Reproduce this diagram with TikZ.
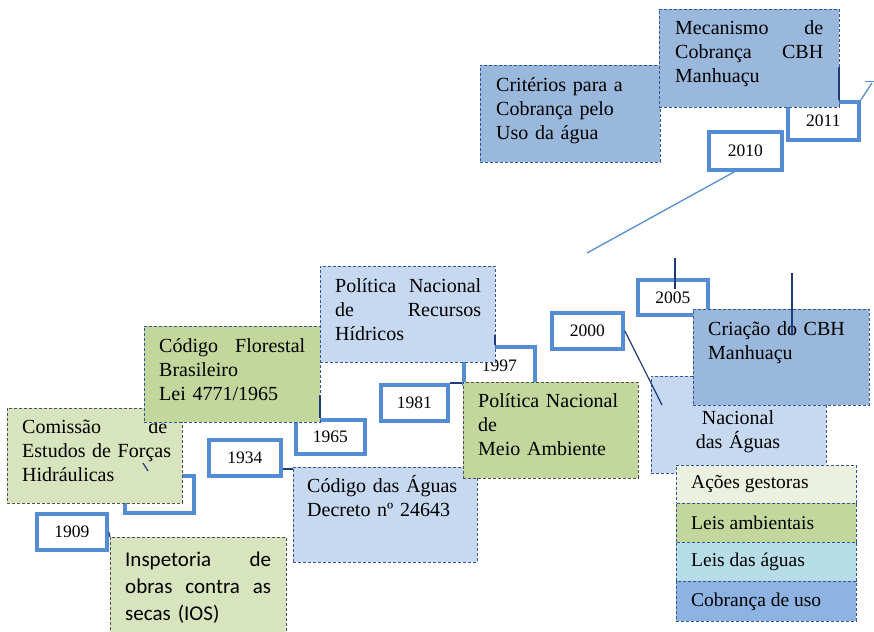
\documentclass[tikz,border=0pt]{standalone}
\usepackage{fontspec}
\setmainfont{Liberation Serif}
\newfontfamily\calibrifont{Carlito}
\definecolor{ybord}{RGB}{84,141,212}
\definecolor{cobr}{HTML}{99B8DC}
\definecolor{lightb}{HTML}{C6D9F1}
\definecolor{greenA}{HTML}{C3D69B}
\definecolor{greenB}{HTML}{D7E4BD}
\definecolor{greenC}{HTML}{EBF1DE}
\definecolor{aqua}{HTML}{B7DEE8}
\definecolor{legcob}{HTML}{8DB3E2}
\definecolor{navy}{RGB}{31,58,125}
\definecolor{dblue}{RGB}{50,85,155}
\definecolor{dgray}{RGB}{80,80,80}
\tikzset{
  bx/.style={rectangle, inner sep=0pt, line width=0.9pt, dash pattern=on 3pt off 2pt},
  bbx/.style={bx, draw=dblue},
  gbx/.style={bx, draw=dgray},
  yr/.style={rectangle, draw=ybord, line width=3.8pt, fill=white, inner sep=0pt,
             font=\fontsize{17.5}{20}\selectfont},
  txt/.style={anchor=base west, inner sep=0pt, align=left, font=\fontsize{20}{24}\selectfont},
  legtxt/.style={anchor=west, inner sep=0pt, font=\fontsize{19.5}{23}\selectfont},
  conn/.style={draw=navy, line width=1.2pt},
  thinl/.style={draw=ybord, line width=1.3pt},
}
% name, style, x1, y1, x2, y2, text
\newcommand\rbox[7]{\node[#2, anchor=north west, minimum width={(#5-#3)*1pt},
  minimum height={(#6-#4)*1pt}] (#1) at (#3,#4) {#7};}
\begin{document}
\begin{tikzpicture}[x=1pt,y=-1pt]
\useasboundingbox (0,0) rectangle (874,631);
\clip (0,0) rectangle (874,631);

% ---- top area
\coordinate (c2010end) at (587,253);
\coordinate (ctr) at (872,83);
\coordinate (ctick) at (865,82);
\coordinate (ctick2) at (874,82);
\rbox{crit}{bbx, fill=cobr}{480}{65}{660}{162}{}
\node[txt, text width=148pt] at (496,92) {Critérios para a\\Cobrança pelo\\Uso da água};
\rbox{y2011}{yr}{786}{100}{857}{138}{2011}
\rbox{mec}{bbx, fill=cobr}{659}{9}{839}{107}{}
\node[txt, text width=148pt] at (675,35) {Mecanismo\hfill de\\Cobrança\hfill CBH\\Manhuaçu};
\coordinate (c2011) at (839,67);
\draw[conn] (c2011) -- (c2011 |- y2011.north);
\rbox{y2010}{yr}{707}{130}{780}{168}{2010}
\draw[thinl] ([xshift=-11pt]y2010.south) -- (c2010end);
\draw[thinl] (y2011.north east) -- (ctr);
\draw[thinl, line width=1pt] (ctick) -- (ctick2);

% ---- left area
\rbox{yhid}{yr}{123}{474}{192}{511}{}
\rbox{com}{gbx, fill=greenB}{7}{408}{182}{503}{}
\node[txt, text width=153pt] at (22,433) {\makebox[145pt][s]{Comissão\hfill de}\\Estudos de Forças\\Hidráulicas};
\coordinate (ctk1) at (143,463);
\coordinate (ctk2) at (148,471);
\draw[conn] (ctk1) -- (ctk2);
\rbox{y1909}{yr}{35}{512}{105}{548}{1909}
\rbox{insp}{gbx, fill=greenB}{110}{537}{286}{645}{}
\node[txt, text width=146pt, font=\calibrifont\fontsize{21}{27}\selectfont] at (125,566)
  {Inspetoria\hfill de\\obras\hfill contra\hfill as\\secas (IOS)};
\draw[conn] (y1909.east) -- (insp.north west);

\rbox{y1934}{yr}{207}{438}{279}{474}{1934}
\rbox{cda}{bbx, fill=lightb}{293}{467}{477}{562}{}
\node[txt, text width=152pt] at (307,492) {Código das Águas\\Decreto nº 24643};
\coordinate (c34b) at (293,469);
\draw[conn] (c34b -| y1934.east) -- (c34b);

\rbox{y1965}{yr}{294}{418}{363}{452}{1965}
\rbox{cf}{bbx, fill=greenA}{144}{326}{320}{422}{}
\node[txt, text width=146pt] at (159,352) {Código\hfill Florestal\\Brasileiro\\Lei 4771/1965};
\coordinate (ccf) at (320,395);
\draw[conn] (ccf) -- (ccf |- y1965.north);

% ---- middle
\rbox{y1997}{yr}{462}{345}{533}{382}{1997}
\rbox{pnrh}{bbx, fill=lightb}{320}{266}{495}{362}{}
\node[txt, text width=146pt] at (335,292) {Política\hfill Nacional\\de\hfill Recursos\\Hídricos};
\coordinate (c1997) at (495,335);
\draw[conn] (c1997) -- (c1997 |- y1997.north);
\rbox{y1981}{yr}{379}{383}{446}{419}{1981}
\draw[conn] (y1981.north east) -- (y1981.north east -| y1997.west);
\rbox{pnma}{gbx, fill=greenA}{463}{382}{638}{478}{}
\node[txt, text width=146pt] at (478,407) {Política Nacional\\de\\Meio Ambiente};

% ---- right
\rbox{y2000}{yr}{550}{311}{621}{347}{2000}
\rbox{y2005}{yr}{636}{278}{706}{313}{2005}
\rbox{nac}{bbx, fill=lightb}{651}{376}{826}{473}{}
\node[txt, anchor=base, align=center, text width=170pt] at (738,424) {Nacional\\das Águas};
\coordinate (cnac) at (662,405);
\draw[conn] (y2000.east) -- (cnac);
\rbox{cri}{bbx, fill=cobr}{693}{309}{869}{405}{}
\node[txt, text width=150pt] at (708,335) {Criação do CBH\\Manhuaçu};
\coordinate (c2005) at (675,258);
\draw[conn] (c2005) -- ++(0,31);
\coordinate (ccri) at (792,273);
\draw[conn] (ccri) -- ++(0,62);

% ---- legend
\rbox{lg1}{bbx, fill=greenC}{676}{465}{856}{503}{}
\rbox{lg2}{bbx, fill=greenA}{676}{503}{856}{542}{}
\rbox{lg3}{bbx, fill=aqua}{676}{542}{856}{581}{}
\rbox{lg4}{bbx, fill=legcob}{676}{581}{856}{621}{}
\node[legtxt] at ([xshift=15pt]lg1.west) {Ações gestoras};
\node[legtxt] at ([xshift=15pt]lg2.west) {Leis ambientais};
\node[legtxt] at ([xshift=15pt]lg3.west) {Leis das águas};
\node[legtxt] at ([xshift=15pt]lg4.west) {Cobrança de uso};
\end{tikzpicture}
\end{document}
